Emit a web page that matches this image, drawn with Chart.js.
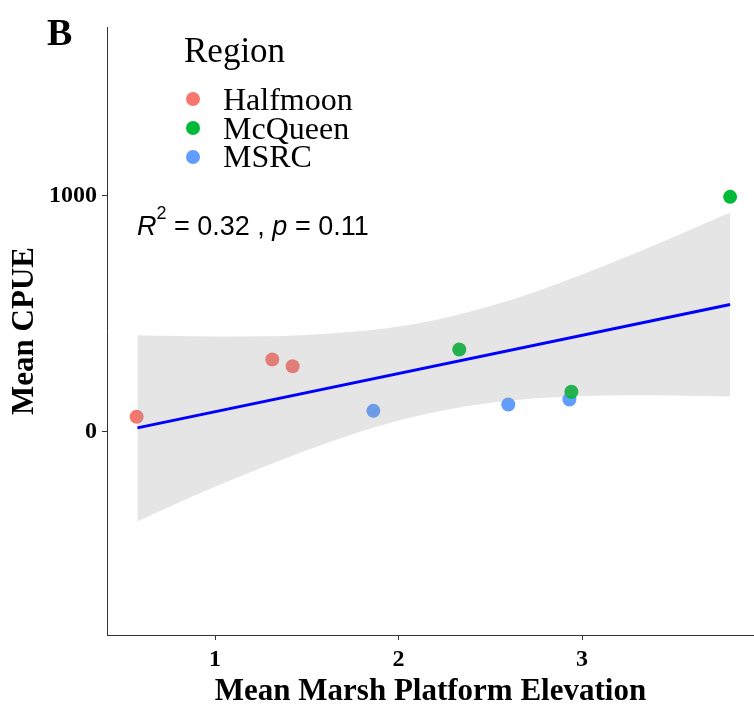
<!DOCTYPE html>
<html lang="en">

<head>
    <meta charset="UTF-8">
    <title>Mean CPUE vs Marsh Platform Elevation</title>
    <script src="https://cdn.jsdelivr.net/npm/chart.js"></script>
    <style>
        html, body { margin: 0; padding: 0; background: #fff; }
        #wrap { position: relative; width: 754px; height: 711px; overflow: hidden; }
        #plot { position: absolute; left: 0; top: 0; }
        .lbl { position: absolute; white-space: nowrap; line-height: 1; color: #000; }
        .serif { font-family: 'Liberation Serif', 'Times New Roman', serif; }
        .sans { font-family: 'Liberation Sans', Arial, sans-serif; }
        .dot { position: absolute; width: 14px; height: 14px; border-radius: 50%; }
    </style>
</head>

<body>
    <div id="wrap">
        <canvas id="plot" width="754" height="711"></canvas>

        <div class="lbl serif" style="left:47px; top:13px; font-size:38px; font-weight:bold;">B</div>

        <!-- legend -->
        <div class="lbl serif" style="left:184px; top:33px; font-size:35px;">Region</div>
        <div class="dot" style="left:186px; top:92px; background:#F8766D;"></div>
        <div class="dot" style="left:186px; top:121px; background:#00BA38;"></div>
        <div class="dot" style="left:186px; top:150px; background:#619CFF;"></div>
        <div class="lbl serif" style="left:223px; top:83px; font-size:32px;">Halfmoon</div>
        <div class="lbl serif" style="left:223px; top:112px; font-size:32px;">McQueen</div>
        <div class="lbl serif" style="left:223px; top:140px; font-size:32px;">MSRC</div>

        <!-- regression stats -->
        <div class="lbl sans" style="left:137px; top:213px; font-size:27px;">
            <i>R</i><span style="font-size:18px; position:relative; top:-16px;">2</span> = 0.32 , <i>p</i> = 0.11
        </div>
    </div>

    <script>
        // Region means
        const halfmoonX = [0.573, 1.312, 1.423];
        const halfmoonY = [64, 307, 278];
        const mcqueenX = [2.331, 2.942, 3.807];
        const mcqueenY = [349, 170, 996];
        const msrcX = [1.863, 2.598, 2.931];
        const msrcY = [89, 116, 137];

        // Linear fit and its 95% band
        const fitX = [0.577, 3.807];
        const fitY = [17, 540];
        const bandX = [0.577, 0.8, 1.0, 1.25, 1.5, 1.75, 2.0, 2.25, 2.5, 2.75, 3.0, 3.25, 3.5, 3.807];
        const bandUpper = [410, 406, 404, 405, 411, 424, 447, 483, 533, 595, 667, 744, 826, 930];
        const bandLower = [-380, -300, -233, -153, -78, -10, 48, 92, 123, 142, 152, 155, 154, 150];

        const xTicks = [1, 2, 3];
        const yTicks = [0, 1000];

        const pts = (xs, ys) => xs.map((x, i) => ({ x: x, y: ys[i] }));

        const tickFont = { family: 'Liberation Serif', size: 24, weight: 'bold' };
        const titleFont = { family: 'Liberation Serif', size: 31, weight: 'bold' };

        const ctx = document.getElementById('plot').getContext('2d');
        const chart = new Chart(ctx, {
            type: 'scatter',
            data: {
                datasets: [
                    {
                        type: 'line', label: 'fit', data: pts(fitX, fitY),
                        borderColor: '#0000FF', borderWidth: 3, pointRadius: 0, fill: false, order: 0
                    },
                    {
                        type: 'line', label: 'upper', data: pts(bandX, bandUpper),
                        borderColor: 'transparent', borderWidth: 0, pointRadius: 0,
                        cubicInterpolationMode: 'monotone',
                        fill: '+1', backgroundColor: 'rgba(153,153,153,0.25)', order: 1
                    },
                    {
                        type: 'line', label: 'lower', data: pts(bandX, bandLower),
                        borderColor: 'transparent', borderWidth: 0, pointRadius: 0,
                        cubicInterpolationMode: 'monotone', fill: false, order: 1
                    },
                    {
                        label: 'Halfmoon', data: pts(halfmoonX, halfmoonY),
                        backgroundColor: '#F8766D', borderWidth: 0, pointRadius: 7, order: 2
                    },
                    {
                        label: 'McQueen', data: pts(mcqueenX, mcqueenY),
                        backgroundColor: '#00BA38', borderWidth: 0, pointRadius: 7, order: 3
                    },
                    {
                        label: 'MSRC', data: pts(msrcX, msrcY),
                        backgroundColor: '#619CFF', borderWidth: 0, pointRadius: 7, order: 4
                    }
                ]
            },
            options: {
                responsive: false,
                animation: false,
                devicePixelRatio: 1,
                layout: { autoPadding: false, padding: { top: 27, right: 0, bottom: 0, left: 0 } },
                plugins: { legend: { display: false }, tooltip: { enabled: false } },
                scales: {
                    x: {
                        type: 'linear', min: 0.4114, max: 3.937,
                        afterBuildTicks: s => { s.ticks = xTicks.map(v => ({ value: v })); },
                        afterFit: s => { s.height = 76; s.paddingLeft = 0; s.paddingRight = 0; },
                        ticks: { font: tickFont, color: '#000', padding: 5, callback: v => String(v) },
                        grid: { display: true, drawOnChartArea: false, drawTicks: true, tickLength: 5, color: '#333' },
                        border: { display: true, color: '#333', width: 1 },
                        title: { display: true, text: 'Mean Marsh Platform Elevation', font: titleFont, color: '#000', padding: { top: 0, bottom: 0 } }
                    },
                    y: {
                        type: 'linear', min: -861, max: 1716,
                        afterBuildTicks: s => { s.ticks = yTicks.map(v => ({ value: v })); },
                        afterFit: s => { s.width = 107; s.paddingTop = 0; s.paddingBottom = 0; },
                        ticks: { font: tickFont, color: '#000', padding: 5, callback: v => String(v) },
                        grid: { display: true, drawOnChartArea: false, drawTicks: true, tickLength: 5, color: '#333' },
                        border: { display: true, color: '#333', width: 1 },
                        title: { display: true, text: 'Mean CPUE', font: titleFont, color: '#000', padding: { top: 6, bottom: 0 } }
                    }
                }
            }
        });
    </script>
</body>

</html>
